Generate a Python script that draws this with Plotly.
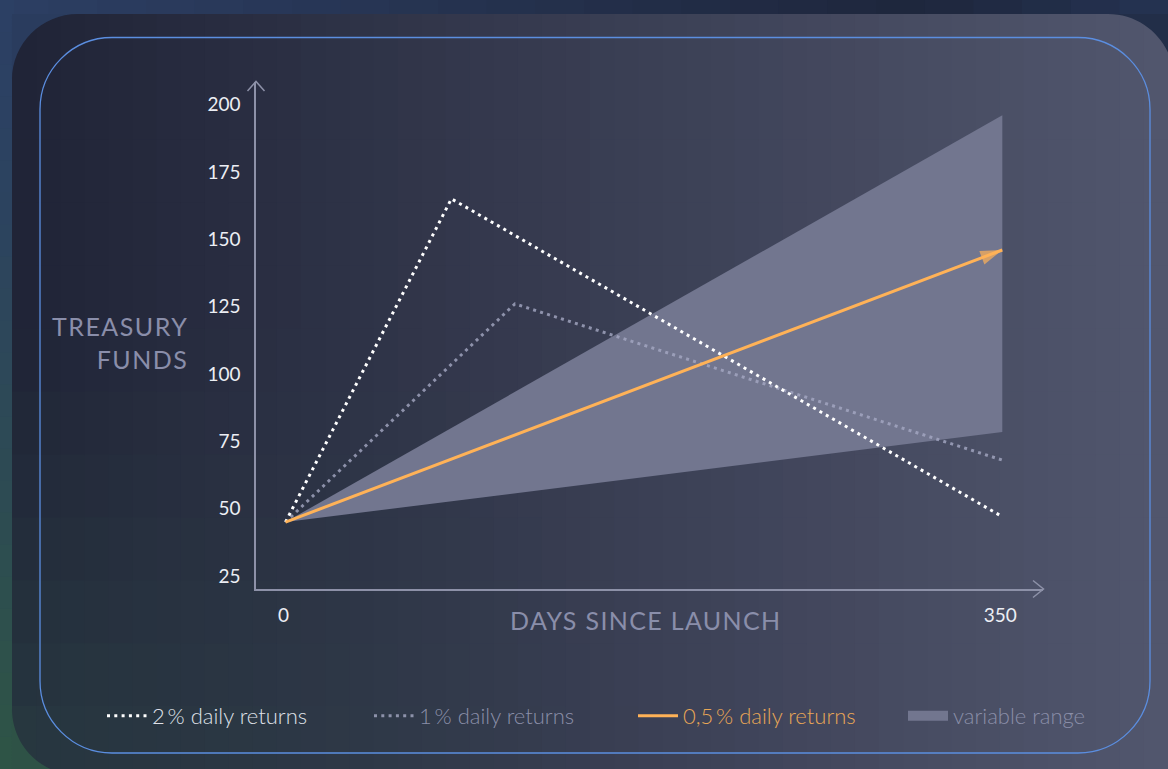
import plotly.graph_objects as go

# ---------------- data ----------------
days = [0, 350]
daily2_x = [0, 81, 350]
daily2_y = [45, 165, 47]
daily1_x = [0, 112, 350]
daily1_y = [45, 126, 68]
daily05_y = [45, 146]
range_low = [45, 78.4]
range_high = [45, 196]
y_ticks = [25, 50, 75, 100, 125, 150, 175, 200]
x_ticks = [0, 350]

W, H = 1168, 769
L, R, T, B = 256, 1043, 82, 589


def px2x(px):
    return (px - L) / (R - L)


def py2y(py):
    return (B - py) / (B - T)


def lerp(a, b, t):
    return tuple(a[i] + (b[i] - a[i]) * t for i in range(3))


def rgb(c):
    return "rgb(%d,%d,%d)" % tuple(int(round(v)) for v in c)


ORANGE = "#ffb257"
AXIS = "#8d91a8"
TITLE = "#8a8eaa"
FILL = "#72768f"

fig = go.Figure()

fig.add_trace(go.Scatter(x=days, y=range_low, mode="lines", line=dict(width=0, color=FILL),
                         showlegend=False, hoverinfo="skip"))
fig.add_trace(go.Scatter(x=days, y=range_high, mode="lines", line=dict(width=0, color=FILL),
                         fill="tonexty", fillcolor=FILL, showlegend=False))
fig.add_trace(go.Scatter(x=daily1_x, y=daily1_y, mode="lines",
                         line=dict(color="rgba(165,169,195,0.8)", width=3, dash="3px,4.3px"),
                         name="1\u2009% daily returns", legend="legend2"))
fig.add_trace(go.Scatter(x=daily2_x, y=daily2_y, mode="lines",
                         line=dict(color="#ffffff", width=3, dash="3px,4.3px"),
                         name="2\u2009% daily returns", legend="legend"))
fig.add_trace(go.Scatter(x=days, y=daily05_y, mode="lines",
                         line=dict(color=ORANGE, width=3),
                         name="0,5\u2009% daily returns", legend="legend3"))
fig.add_trace(go.Scatter(x=days, y=daily05_y, mode="markers",
                         marker=dict(symbol="arrow", size=[0, 23], angleref="previous", color=ORANGE,
                                     line=dict(width=0)),
                         showlegend=False, hoverinfo="skip"))
# legend entry for the range area
fig.add_trace(go.Scatter(x=[None], y=[None], mode="lines", line=dict(width=17, color=FILL),
                         name="variable range", legend="legend4"))

shapes = []
# outer background bands
outer_top_r = (36, 50, 80)
for i in range(24):
    x0 = i * W / 24
    x1 = (i + 1) * W / 24 + 1
    t = i / 23
    c = lerp((44, 62, 98), (30, 38, 60), min(1, t / 0.8)) if t < 0.8 else lerp((30, 38, 60), outer_top_r, (t - 0.8) / 0.2)
    shapes.append(dict(type="rect", xref="paper", yref="paper", x0=px2x(x0), x1=px2x(x1),
                       y0=py2y(0), y1=py2y(16), fillcolor=rgb(c), line=dict(width=0), layer="below"))
for j in range(24):
    y0 = j * H / 24
    y1 = (j + 1) * H / 24 + 1
    t = j / 23
    c = lerp((44, 64, 100), (46, 84, 70), t ** 1.3)
    shapes.append(dict(type="rect", xref="paper", yref="paper", x0=px2x(0), x1=px2x(14),
                       y0=py2y(y0), y1=py2y(y1), fillcolor=rgb(c), line=dict(width=0), layer="below"))

# card gradient
c0 = (31, 35, 54)
c1 = (82, 87, 110)
green = (46, 74, 72)
NX, NY = 48, 12
cx0, cx1, cy0, cy1 = 12, 1168, 14, 769
for i in range(NX):
    xa = cx0 + (cx1 - cx0) * i / NX
    xb = cx0 + (cx1 - cx0) * (i + 1) / NX + 1
    xm = (xa + xb) / 2
    base = lerp(c0, c1, (xm - cx0) / (cx1 - cx0))
    for j in range(NY):
        ya = cy0 + (cy1 - cy0) * j / NY
        yb = cy0 + (cy1 - cy0) * (j + 1) / NY + 1
        ym = (ya + yb) / 2
        w = max(0, 1 - (xm - 12) / 650) * max(0, (ym - 300) / 470) ** 1.2 * 0.55
        c = lerp(base, green, w)
        shapes.append(dict(type="rect", xref="paper", yref="paper", x0=px2x(xa), x1=px2x(xb),
                           y0=py2y(yb), y1=py2y(ya), fillcolor=rgb(c), line=dict(width=0), layer="below"))

K = 0.5523


def P(px, py):
    return "%.5f,%.5f" % (px2x(px), py2y(py))


# corner masks of the card
Rc = 66
tl = "M%s L%s C%s %s %s Z" % (P(cx0, cy0), P(cx0 + Rc, cy0), P(cx0 + Rc - K * Rc, cy0), P(cx0, cy0 + Rc - K * Rc), P(cx0, cy0 + Rc))
shapes.append(dict(type="path", xref="paper", yref="paper", path=tl, fillcolor="rgb(42,60,94)", line=dict(width=0), layer="below"))
rx = 1174
tr = "M%s L%s C%s %s %s Z" % (P(rx, cy0), P(rx - Rc, cy0), P(rx - Rc + K * Rc, cy0), P(rx, cy0 + Rc - K * Rc), P(rx, cy0 + Rc))
shapes.append(dict(type="path", xref="paper", yref="paper", path=tr, fillcolor="rgb(34,46,72)", line=dict(width=0), layer="below"))
by = 775
bl = "M%s L%s C%s %s %s Z" % (P(cx0, by), P(cx0, by - Rc), P(cx0, by - Rc + K * Rc), P(cx0 + Rc - K * Rc, by), P(cx0 + Rc, by))
shapes.append(dict(type="path", xref="paper", yref="paper", path=bl, fillcolor="rgb(46,82,70)", line=dict(width=0), layer="below"))

# inner rounded border
bx0, bx1, by0, by1, r = 40, 1150, 37.5, 753, 72
k = K * r
border = ("M%s L%s C%s %s %s L%s C%s %s %s L%s C%s %s %s L%s C%s %s %s Z" % (
    P(bx0 + r, by0), P(bx1 - r, by0),
    P(bx1 - r + k, by0), P(bx1, by0 + r - k), P(bx1, by0 + r),
    P(bx1, by1 - r),
    P(bx1, by1 - r + k), P(bx1 - r + k, by1), P(bx1 - r, by1),
    P(bx0 + r, by1),
    P(bx0 + r - k, by1), P(bx0, by1 - r + k), P(bx0, by1 - r),
    P(bx0, by0 + r),
    P(bx0, by0 + r - k), P(bx0 + r - k, by0), P(bx0 + r, by0)))
shapes.append(dict(type="path", xref="paper", yref="paper", path=border, line=dict(color="#5b8ee0", width=1.3), layer="below"))

# axis arrow heads
shapes.append(dict(type="path", xref="paper", yref="paper",
                   path="M%s L%s L%s" % (P(247.5, 91), P(256, 81.5), P(264.5, 91)),
                   line=dict(color=AXIS, width=1.5)))
shapes.append(dict(type="path", xref="paper", yref="paper",
                   path="M%s L%s L%s" % (P(1033, 580.5), P(1043.5, 589), P(1033, 597.5)),
                   line=dict(color=AXIS, width=1.5)))

annotations = [
    dict(xref="paper", yref="paper", x=px2x(190), y=py2y(342), xanchor="right", yanchor="middle",
         align="right", showarrow=False,
         text='<span style="letter-spacing:1.5px">TREASURY</span><br><span style="letter-spacing:1.5px">FUNDS</span>',
         font=dict(family="Lato", size=25, color=TITLE)),
    dict(xref="paper", yref="paper", x=px2x(645.5), y=py2y(620), xanchor="center", yanchor="middle",
         showarrow=False, text='<span style="letter-spacing:1.35px">DAYS SINCE LAUNCH</span>',
         font=dict(family="Lato", size=25, color=TITLE)),
]

xr0 = -29.5 / 2.048
xr1 = 350 + 40.7 / 2.048
yr0 = 200 - (589 - 104.5) / 2.694
yr1 = 200 + (104.5 - 82) / 2.694

leg_common = dict(orientation="h", yanchor="middle", y=py2y(716), xanchor="left",
                  bgcolor="rgba(0,0,0,0)", itemwidth=40)

fig.update_layout(
    width=W, height=H, autosize=False,
    margin=dict(l=L, r=W - R, t=T, b=H - B, pad=0),
    paper_bgcolor="rgb(36,50,80)", plot_bgcolor="rgba(0,0,0,0)",
    shapes=shapes, annotations=annotations,
    xaxis=dict(range=[xr0, xr1], tickvals=x_ticks, showgrid=False, zeroline=False,
               showline=True, linecolor=AXIS, linewidth=1.5, ticks="",
               tickfont=dict(family="Lato", size=19, color="#eceef4"), ticklabelstandoff=8,
               ticklabelshift=-2),
    yaxis=dict(range=[yr0, yr1], tickvals=y_ticks, showgrid=False, zeroline=False,
               showline=True, linecolor=AXIS, linewidth=1.5, ticks="",
               tickfont=dict(family="Lato", size=19, color="#eceef4"), ticklabelstandoff=10),
    legend=dict(leg_common, x=px2x(102), font=dict(family="Lato", size=22, color="#dfe0e8", weight=300)),
    legend2=dict(leg_common, x=px2x(369), font=dict(family="Lato", size=22, color="#8a8ea8", weight=300)),
    legend3=dict(leg_common, x=px2x(633), font=dict(family="Lato", size=22, color="#e8a656", weight=300)),
    legend4=dict(leg_common, x=px2x(903), font=dict(family="Lato", size=22, color="#8a8ea8", weight=300)),
    showlegend=True,
)

fig.write_html("out.html", config={"displayModeBar": False},
               post_script="document.body.style.margin='0px';")
